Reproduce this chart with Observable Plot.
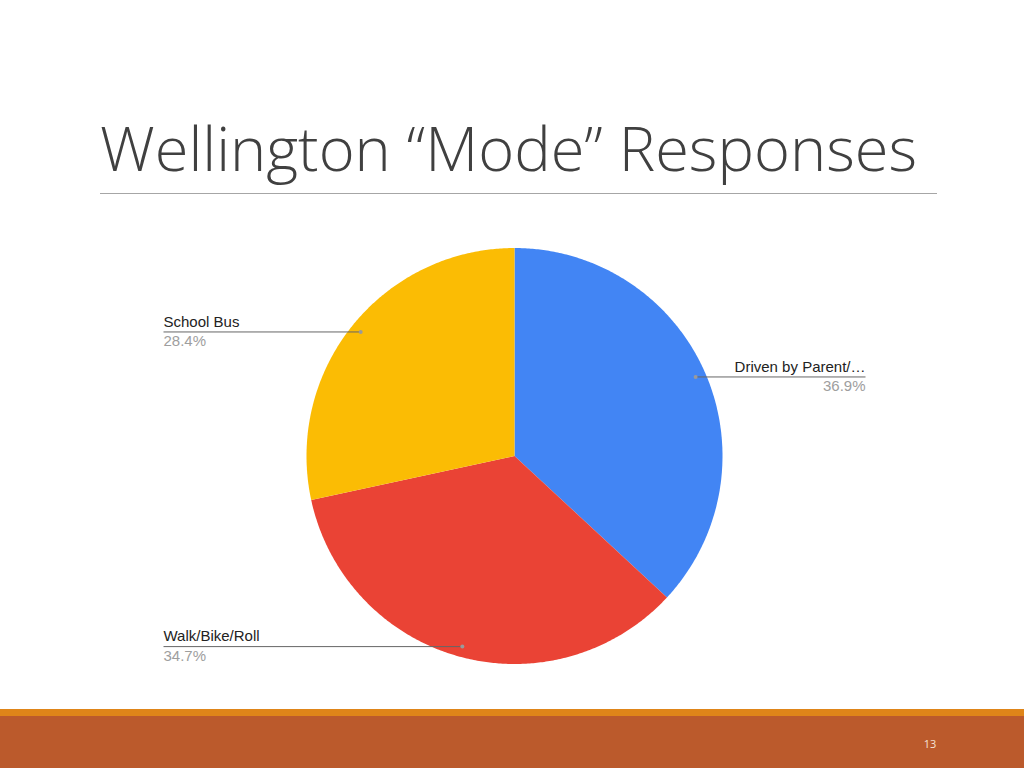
<!DOCTYPE html>
<html>
<head>
<meta charset="utf-8">
<script src="https://cdn.jsdelivr.net/npm/d3@7"></script>
<script src="https://cdn.jsdelivr.net/npm/@observablehq/plot@0.6"></script>
<style>
  html, body { margin: 0; padding: 0; background: #fff; }
  #page { position: relative; width: 1024px; height: 768px; overflow: hidden; background: #fff; }
  #title { position: absolute; left: 100px; top: 118px; font-family: "Open Sans", sans-serif; font-weight: 300; font-size: 60px; color: #404040; white-space: nowrap; transform-origin: 0 0; line-height: 1; }
  #rule { position: absolute; left: 100px; top: 193px; width: 837px; height: 1px; background: #a6a6a6; }
  #chart { position: absolute; left: 0; top: 210px; }
  #band1 { position: absolute; left: 0; top: 709px; width: 1024px; height: 7px; background: #df8519; }
  #band2 { position: absolute; left: 0; top: 716px; width: 1024px; height: 52px; background: #bb5a2c; }
  #pagenum { position: absolute; left: 918px; top: 736px; width: 24px; text-align: center; font-family: "Open Sans", sans-serif; font-size: 11px; color: #f6e4d8; }
</style>
</head>
<body>
<div id="page">
  <div id="title">Wellington “Mode” Responses</div>
  <div id="rule"></div>
  <div id="chart"></div>
  <div id="band1"></div>
  <div id="band2"></div>
  <div id="pagenum">13</div>
</div>
<script>
// ---- data ----
const categories = ["Driven by Parent/…", "Walk/Bike/Roll", "School Bus"];
const shares = [36.9, 34.7, 28.4];
const sliceColors = ["#4285f4", "#ea4335", "#fbbc04"];
const shareLabels = ["36.9%", "34.7%", "28.4%"];

// fit title width
const t = document.getElementById("title");
const w = t.getBoundingClientRect().width;
t.style.transform = `scaleX(${817 / w})`;

// ---- geometry via d3.pie (angles clockwise from top) ----
const arcs = d3.pie().sort(null).value(d => d.share).startAngle(0).endAngle(2 * Math.PI)(
  categories.map((name, i) => ({name, share: shares[i], label: shareLabels[i]}))
);

const slicePts = [];
for (const a of arcs) {
  const name = a.data.name;
  slicePts.push({name, x: 0, y: 0});
  const n = Math.max(2, Math.ceil((a.endAngle - a.startAngle) / (Math.PI / 360)));
  for (let k = 0; k <= n; k++) {
    const ang = a.startAngle + (a.endAngle - a.startAngle) * k / n;
    slicePts.push({name, x: Math.sin(ang), y: Math.cos(ang)});
  }
}

const dotR = 0.95;     // anchor radius as fraction of pie radius
const labelCol = 1.6875; // label column offset in pie radii
const labels = arcs.map(a => {
  const mid = (a.startAngle + a.endAngle) / 2;
  const x = dotR * Math.sin(mid), y = dotR * Math.cos(mid);
  const right = x > 0;
  return {name: a.data.name, label: a.data.label, x, y, lx: right ? labelCol : -labelCol, anchor: right ? "end" : "start"};
});

const R = 208;
const cx = 514, cy = 245.5;

const plot = Plot.plot({
  width: 1024,
  height: 480,
  margin: 0,
  x: {domain: [-1, 1], range: [cx - R, cx + R], axis: null},
  y: {domain: [-1, 1], range: [cy + R, cy - R], axis: null},
  color: {domain: categories, range: sliceColors},
  style: {background: "transparent", fontFamily: "'Liberation Sans', Arial, sans-serif"},
  marks: [
    Plot.line(slicePts, {x: "x", y: "y", z: "name", fill: "name", stroke: "none", curve: "linear-closed"}),
    Plot.link(labels, {x1: "x", y1: "y", x2: "lx", y2: "y", stroke: "#666", strokeWidth: 1}),
    Plot.dot(labels, {x: "x", y: "y", r: 2, fill: "#9a9a9a", stroke: "none"}),
    Plot.text(labels.filter(d => d.anchor === "start"), {x: "lx", y: "y", text: "name", textAnchor: "start", dy: -10, fontSize: 15, fill: "#222"}),
    Plot.text(labels.filter(d => d.anchor === "end"), {x: "lx", y: "y", text: "name", textAnchor: "end", dy: -10, fontSize: 15, fill: "#222"}),
    Plot.text(labels.filter(d => d.anchor === "start"), {x: "lx", y: "y", text: "label", textAnchor: "start", dy: 9.5, fontSize: 15, fill: "#9e9e9e"}),
    Plot.text(labels.filter(d => d.anchor === "end"), {x: "lx", y: "y", text: "label", textAnchor: "end", dy: 9.5, fontSize: 15, fill: "#9e9e9e"})
  ]
});
document.getElementById("chart").appendChild(plot);
</script>
</body>
</html>
